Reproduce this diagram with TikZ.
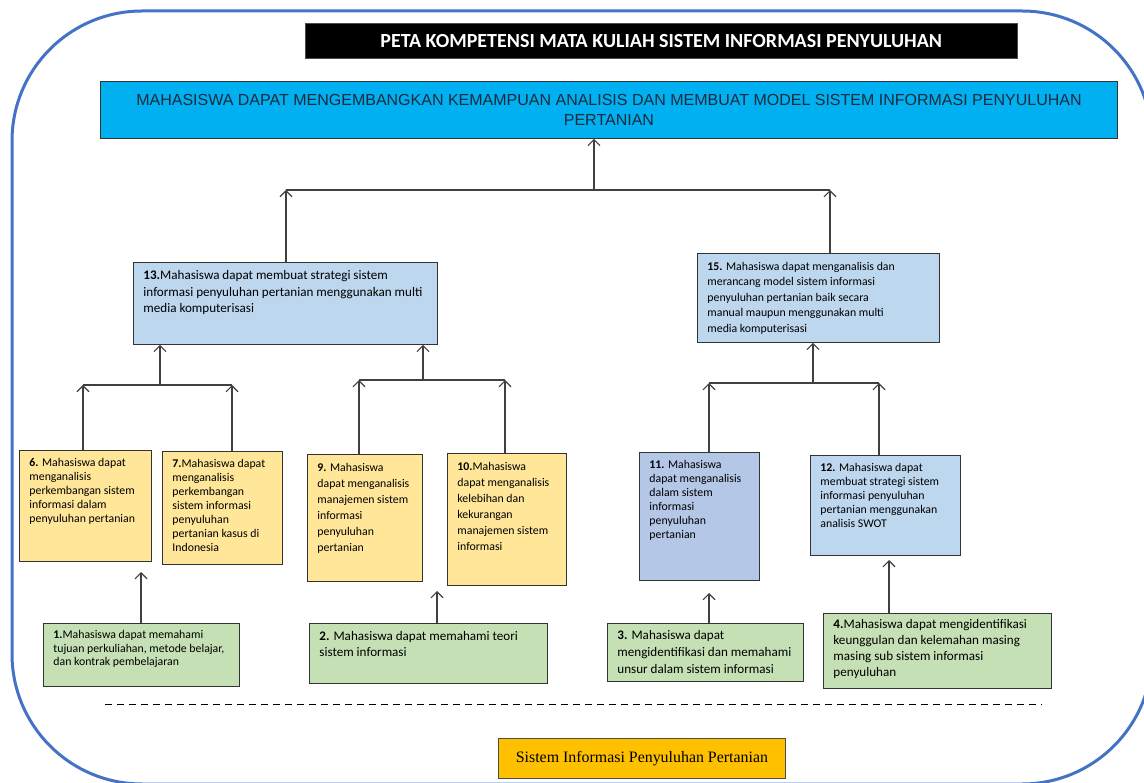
\documentclass[tikz,border=0pt]{standalone}
\usepackage{fontspec}
\setmainfont{Carlito}
\newfontfamily\arialfont{Liberation Sans}
\newfontfamily\timesfont{Liberation Serif}
\usepackage{tikz}
\usetikzlibrary{arrows.meta}
\usetikzlibrary{positioning}

\definecolor{bingkai}{HTML}{4472C4}
\definecolor{biruterang}{HTML}{00B0F0}
\definecolor{birumuda}{HTML}{BDD7EE}
\definecolor{birusedang}{HTML}{B4C7E7}
\definecolor{kuning}{HTML}{FFE699}
\definecolor{hijau}{HTML}{C5E0B4}
\definecolor{oranye}{HTML}{FFC000}
\definecolor{garis}{HTML}{404040}
\definecolor{teksbiru}{HTML}{1A2B3C}

% box text: width, height, lines
\newcommand{\isi}[3]{\parbox[t][#2][t]{#1}{\begin{tabular}[t]{@{}l@{}}#3\end{tabular}}}

\begin{document}
\begin{tikzpicture}[x = 1pt,
                    y = -1pt,
                    >={Straight Barb[length=6pt, width=12pt]},
                    kotak/.style = {draw = black!80, line width = 0.9pt, anchor = north west,
                                    inner xsep = 10pt, inner ysep = 6pt,
                                    font = \fontsize{11.8}{#1}\selectfont},
                    kotak/.default = 14,
                    besar/.style = {font = \fontsize{13.1}{#1}\selectfont},
                    panah/.style = {->, draw = garis, line width = 1.1pt},
                    rel/.style = {draw = garis, line width = 1.1pt}]
    \useasboundingbox (0,0) rectangle (1144,783);

    % Draw the frame and the headings:
    \draw [bingkai, line width = 3pt, rounded corners = 130pt] (12,11) rectangle (1152,784);
    \node [anchor = north west, fill = black, draw = black!70, minimum width = 712pt, minimum height = 35pt,
           text = white, font = \bfseries\fontsize{20}{22}\selectfont] (judul) at (305,23)
        {PETA KOMPETENSI MATA KULIAH SISTEM INFORMASI PENYULUHAN};
    \node [anchor = north west, fill = biruterang, draw = black!80, line width = 0.9pt,
           minimum width = 1017pt, minimum height = 57pt, align = center, text = teksbiru,
           font = \arialfont\fontsize{16}{20}\selectfont] (tujuan) at (100,81)
        {MAHASISWA DAPAT MENGEMBANGKAN KEMAMPUAN ANALISIS DAN MEMBUAT MODEL SISTEM INFORMASI PENYULUHAN\\PERTANIAN};

    % Draw the competence boxes:
    \node [kotak, besar = 16.5, fill = birumuda] (b13) at (133,262)
        {\isi{284pt}{70pt}{\textbf{13.}Mahasiswa dapat membuat strategi sistem\\informasi penyuluhan pertanian menggunakan multi\\media komputerisasi}};
    \node [kotak = 15.5, fill = birumuda] (b15) at (697,253)
        {\isi{222pt}{77pt}{\textbf{15.} Mahasiswa dapat menganalisis dan\\merancang model sistem informasi\\penyuluhan pertanian baik secara\\manual maupun menggunakan multi\\media komputerisasi}};

    \node [kotak, fill = kuning] (b6) at (19,450)
        {\isi{112pt}{99pt}{\textbf{6.} Mahasiswa dapat\\menganalisis\\perkembangan sistem\\informasi dalam\\penyuluhan pertanian}};
    \node [kotak, fill = kuning] (b7) at (162,451)
        {\isi{100pt}{101pt}{\textbf{7.}Mahasiswa dapat\\menganalisis\\perkembangan\\sistem informasi\\penyuluhan\\pertanian kasus di\\Indonesia}};
    \node [kotak = 16, fill = kuning] (b9) at (307,454)
        {\isi{95pt}{115pt}{\textbf{9.} Mahasiswa\\dapat menganalisis\\manajemen sistem\\informasi\\penyuluhan\\pertanian}};
    \node [kotak = 16, fill = kuning] (b10) at (447,453)
        {\isi{99pt}{120pt}{\textbf{10.}Mahasiswa\\dapat menganalisis\\kelebihan dan\\kekurangan\\manajemen sistem\\informasi}};
    \node [kotak, fill = birusedang] (b11) at (639,452)
        {\isi{100pt}{116pt}{\textbf{11.} Mahasiswa\\dapat menganalisis\\dalam sistem\\informasi\\penyuluhan\\pertanian}};
    \node [kotak, fill = birumuda] (b12) at (810,455)
        {\isi{130pt}{88pt}{\textbf{12.} Mahasiswa dapat\\membuat strategi sistem\\informasi penyuluhan\\pertanian menggunakan\\analisis SWOT}};

    \node [kotak = 13.5, fill = hijau] (b1) at (43,623)
        {\isi{176pt}{51pt}{\textbf{1.}Mahasiswa dapat memahami\\tujuan perkuliahan, metode belajar,\\dan kontrak pembelajaran}};
    \node [kotak, besar = 16, fill = hijau] (b2) at (309,623)
        {\isi{218pt}{48pt}{\textbf{2.} Mahasiswa dapat memahami teori\\sistem informasi}};
    \node [kotak, besar = 17, fill = hijau, inner ysep = 4pt] (b3) at (607,623)
        {\isi{176pt}{50pt}{\textbf{3.} Mahasiswa dapat\\mengidentifikasi dan memahami\\unsur dalam sistem informasi}};
    \node [kotak, besar = 16, fill = hijau, inner ysep = 4pt] (b4) at (823,613)
        {\isi{208pt}{67pt}{\textbf{4.}Mahasiswa dapat mengidentifikasi\\keunggulan dan kelemahan masing\\masing sub sistem informasi\\penyuluhan}};

    % Draw the separator and the course name:
    \draw [black, line width = 1pt, dash pattern = on 7pt off 5pt] (105,704) -- (1042,704);
    \node [anchor = north west, fill = oranye, draw = black!70, line width = 0.9pt,
           minimum width = 287pt, minimum height = 40pt,
           font = \timesfont\fontsize{15.9}{18}\selectfont] (matakuliah) at (498,738)
        {Sistem Informasi Penyuluhan Pertanian};

    % Draw the junctions:
    \coordinate (jA) at (594,190);  \coordinate (jAkiri) at (286,190);  \coordinate (jAkanan) at (830,190);
    \coordinate (jB) at (160,385);  \coordinate (jBkiri) at (83,385);   \coordinate (jBkanan) at (232,385);
    \coordinate (jC) at (423,380);  \coordinate (jCkiri) at (359,380);  \coordinate (jCkanan) at (505,380);
    \coordinate (jD) at (813,383);  \coordinate (jDkiri) at (709,383);  \coordinate (jDkanan) at (879,383);

    % Draw the arrows between the levels:
    \foreach \j/\kiri/\kanan/\ka/\kb/\atas in {jA/jAkiri/jAkanan/b13/b15/tujuan,
                                              jB/jBkiri/jBkanan/b6/b7/b13,
                                              jC/jCkiri/jCkanan/b9/b10/b13,
                                              jD/jDkiri/jDkanan/b11/b12/b15} {
        \draw [rel] (\kiri) -- (\kanan);
        \draw [panah] (\ka.north -| \kiri) -- (\kiri);
        \draw [panah] (\kb.north -| \kanan) -- (\kanan);
        \draw [panah] (\j) -- (\j |- \atas.south);
    }

    % Draw the arrows from the basic competences:
    \coordinate (u1) at (141,572);
    \coordinate (u2) at (437,591);
    \coordinate (u3) at (709,593);
    \coordinate (u4) at (889,560);
    \foreach \dari/\ke in {b1/u1, b2/u2, b3/u3, b4/u4}
        \draw [panah] (\dari.north -| \ke) -- (\ke);
\end{tikzpicture}
\end{document}
